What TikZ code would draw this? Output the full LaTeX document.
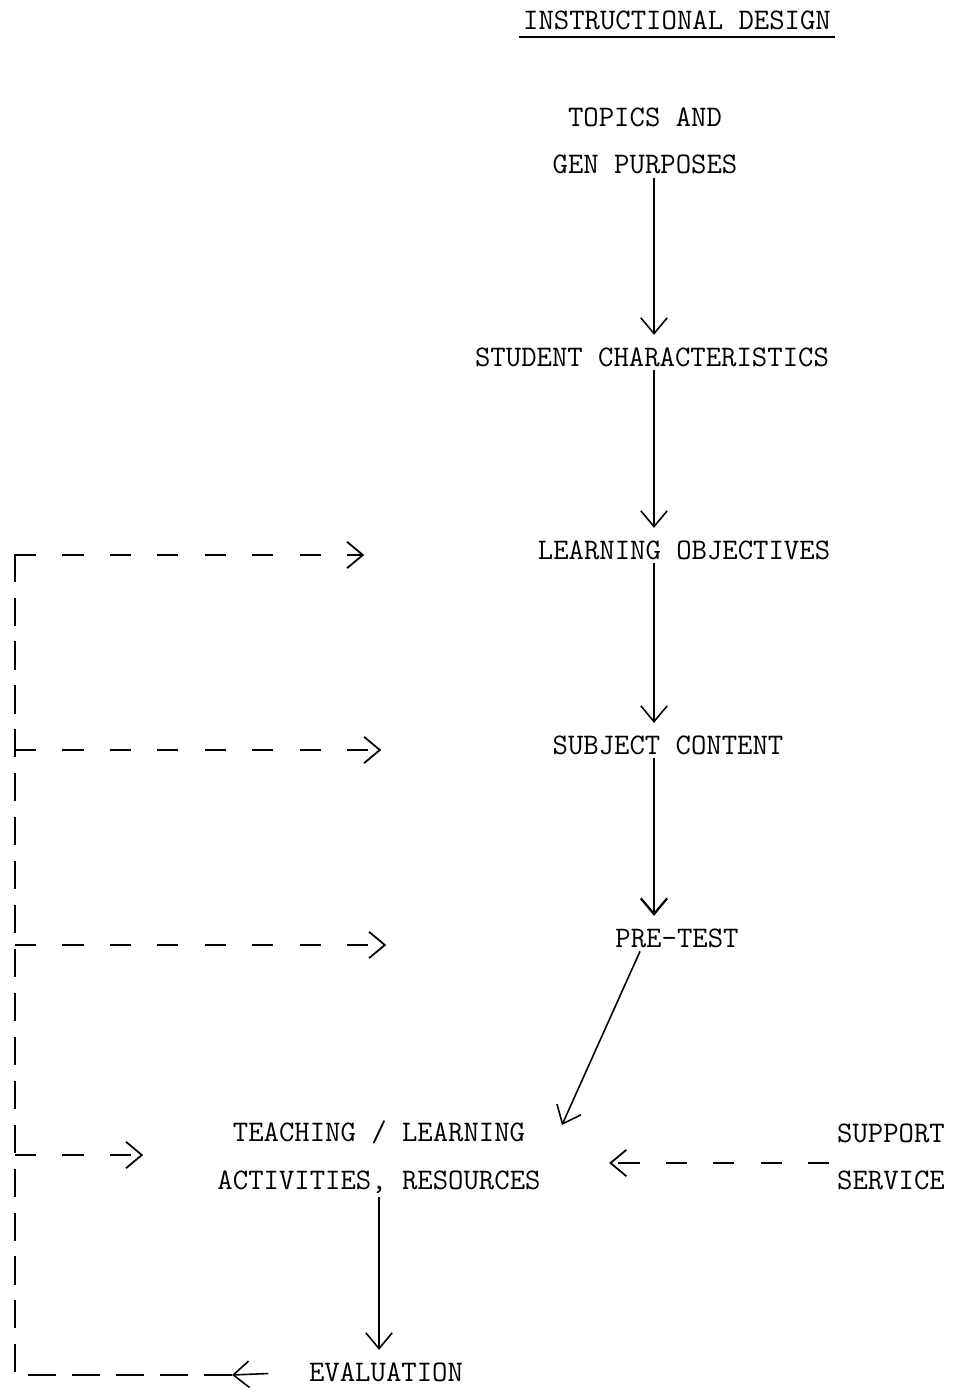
\documentclass[tikz,border=0pt]{standalone}
\usepackage{fontspec}
\usetikzlibrary{calc,arrows.meta}

\begin{document}
\begin{tikzpicture}[
            x=0.02cm, y=-0.02cm,
            lbl/.style={
              font=\fontsize{17}{27}\selectfont\ttfamily,
              align=center,
              inner sep=2pt
            },
            flow/.style={
              line width=0.9pt,
              shorten >=5pt,
              -{Straight Barb[length=9pt,width=15pt]}
            },
            back/.style={
              flow,
              line width=1pt,
              dash pattern=on 12pt off 15pt
            },
            backv/.style={
              line width=1.1pt,
              dash pattern=on 16pt off 9pt
            }
        ]
\useasboundingbox (0,0) rectangle (966,1396);
\coordinate (axis) at (654,0);

% the chain down the right side
\node[lbl] (title) at (677,20) {INSTRUCTIONAL DESIGN};
\draw[line width=1.2pt] ([yshift=-2pt]title.south west) -- ([yshift=-2pt]title.south east);

\node[lbl] (topics) at (645,141) {TOPICS AND\\GEN PURPOSES};
\node[lbl] (student) at (652,357) {STUDENT CHARACTERISTICS};
\node[lbl] (objectives) at (684,550) {LEARNING OBJECTIVES};
\node[lbl] (content) at (668,745) {SUBJECT CONTENT};
\node[lbl] (pretest) at (677,938) {PRE-TEST};
\node[lbl] (teach) at (379,1157) {TEACHING / LEARNING\\ACTIVITIES, RESOURCES};
\node[lbl] (support) at (891,1157) {SUPPORT\\SERVICE};
\node[lbl] (eval) at (386,1372) {EVALUATION};

\draw[flow] (topics.south -| axis) -- (student.north -| axis);
\draw[flow] (student.south -| axis) -- (objectives.north -| axis);
\draw[flow] (objectives.south -| axis) -- (content.north -| axis);
\draw[flow, line width=1.3pt] (content.south -| axis) -- (pretest.north -| axis);
\draw[flow] ($(pretest.south)+(-37,0)$) -- ($(teach.north east)+(14,16)$);
\draw[flow] (teach.south) -- (teach.south |- eval.north);
\draw[back] ($(support.west)+(-4,6)$) -- ($(teach.east)+(56,6)$);

% feedback loop on the left
\coordinate (ftop) at (15,553);
\coordinate (fbot) at (15,1375);
\coordinate (fin) at (232,1375);
\draw[flow, shorten <=21pt, shorten >=0pt] (eval.west) -- (fin);
\draw[backv] (fin) -- (fbot) -- (ftop);
\foreach \n/\y/\x in {1/555/373, 2/750/390, 3/945/395, 4/1155/152}{
    \coordinate (fb\n) at (\x,\y);
    \draw[back] (ftop |- fb\n) -- (fb\n);
}
\end{tikzpicture}
\end{document}
